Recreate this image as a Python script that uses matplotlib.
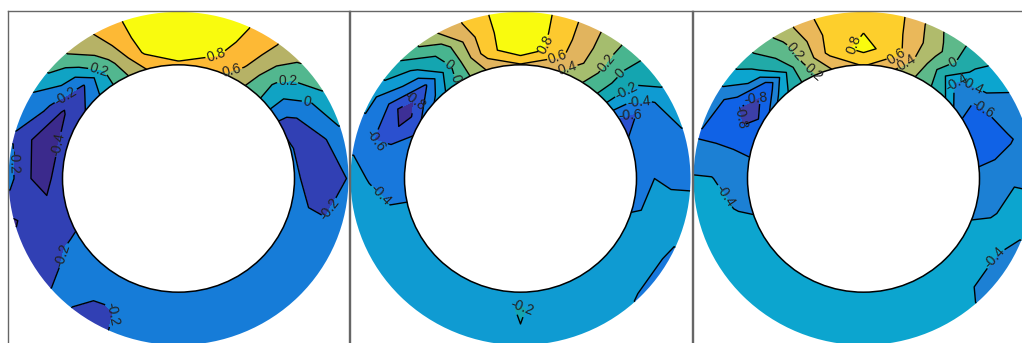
import numpy as np
import matplotlib
matplotlib.use('Agg')
import matplotlib.pyplot as plt
from matplotlib.patches import Circle

plt.rcParams['font.family'] = ['Liberation Sans', 'DejaVu Sans']

# Stations around the ring, clockwise from the top (degrees), and radii of the rows
angles = [0, 15, 30, 45, 60, 75, 90, 105, 120, 135, 150, 165,
          180, 195, 210, 225, 240, 255, 270, 285, 300, 315, 330, 345]
radii = [116, 134, 152, 170]

# Panel 1, one list per radius
p1_r1 = [.76, .68, .5, .2, -.21, -.19, -.17, -.15, -.12, -.1, -.1, -.1,
         -.09, -.1, -.1, -.1, -.19, -.25, -.3, -.3, -.3, -.05, .3, .62]
p1_r2 = [.95, .85, .62, .18, -.19, -.25, -.26, -.19, -.14, -.1, -.1, -.1,
         -.1, -.1, -.12, -.12, -.21, -.34, -.46, -.5, -.42, -.21, .35, .83]
p1_r3 = [1.0, .9, .7, .27, -.02, -.21, -.28, -.2, -.14, -.11, -.1, -.1,
         -.11, -.15, -.22, -.15, -.25, -.32, -.38, -.4, -.15, .1, .5, .88]
p1_r4 = [1.0, .95, .72, .42, .17, -.05, -.19, -.19, -.14, -.12, -.11, -.1,
         -.12, -.15, -.23, -.18, -.26, -.42, -.12, -.22, -.03, .33, .6, .88]

# Panel 2
p2_r1 = [.58, .45, .25, -.08, -.68, -.55, -.48, -.42, -.3, -.3, -.3, -.3,
         -.3, -.3, -.3, -.31, -.31, -.38, -.48, -.58, -.62, -.33, .1, .45]
p2_r2 = [1.0, .7, .36, -.05, -.6, -.55, -.4, -.38, -.3, -.3, -.3, -.31,
         -.18, -.31, -.3, -.3, -.3, -.38, -.47, -.6, -.95, -.62, .05, .7]
p2_r3 = [1.0, .72, .37, -.05, -.43, -.5, -.42, -.35, -.34, -.33, -.3, -.3,
         -.205, -.3, -.3, -.3, -.3, -.33, -.41, -.6, -.6, -.25, .1, .7]
p2_r4 = [1.0, .72, .36, 0, -.26, -.43, -.42, -.35, -.43, -.42, -.31, -.3,
         -.3, -.3, -.3, -.3, -.3, -.3, -.33, -.46, -.35, 0, .38, .72]

# Panel 3
p3_r1 = [.62, .42, .13, -.2, -.65, -.68, -.55, -.44, -.35, -.3, -.3, -.3,
         -.3, -.3, -.3, -.3, -.31, -.43, -.55, -.62, -.75, -.3, .05, .42]
p3_r2 = [.88, .66, .15, -.5, -.65, -.68, -.5, -.42, -.3, -.3, -.3, -.3,
         -.3, -.3, -.3, -.3, -.3, -.39, -.48, -.62, -.92, -.72, .1, .66]
p3_r3 = [.78, .6, .24, -.22, -.5, -.62, -.42, -.33, -.39, -.39, -.32, -.3,
         -.3, -.3, -.3, -.3, -.3, -.33, -.39, -.62, -.7, -.25, .15, .62]
p3_r4 = [.76, .59, .15, -.16, -.42, -.5, -.42, -.35, -.46, -.43, -.3, -.3,
         -.3, -.3, -.3, -.3, -.3, -.3, -.38, -.62, -.5, -.1, .25, .65]

# Contour levels and band colours of each panel
p1_levels = [-.6, -.4, -.2, 0, .2, .4, .6, .8, 1.2]
p1_colors = ['#3b2a8c', '#3140b4', '#167cd8', '#10a3c4', '#52b78f',
             '#b6b266', '#fdb935', '#f9fb0e']
p2_levels = [-1.2, -.8, -.6, -.4, -.2, 0, .2, .4, .6, .8, 1.2]
p2_colors = ['#3d2f96', '#2b50cf', '#1878dc', '#0f9bd2', '#14a5b0', '#48b58f',
             '#a5bd6e', '#e1b45e', '#fdc92f', '#f9fb0e']
p3_levels = [-1.2, -.8, -.6, -.4, -.2, 0, .2, .4, .6, .8, 1.2]
p3_colors = ['#3c3fa8', '#1062e6', '#1c80d4', '#0ca5cf', '#21aaa8', '#5db98a',
             '#b0bb6c', '#eab85a', '#fdcf2c', '#f9fb0e']

# Where the contour labels sit (pixels from the ring centre)
p1_labels = [(38, 123), (53, 112), (-79, 117), (110, 94), (128, 77), (152, -32),
             (-112, 83), (-121, 35), (-163, 17), (-127, -75), (-48, -143)]
p2_labels = [(29, 135), (38, 120), (47, 112), (85, 119), (97, 110), (103, 96),
             (118, 85), (110, 63), (-70, 119), (-62, 103), (-107, 83), (-147, 32),
             (-132, -9), (1, -132)]
p3_labels = [(-8, 135), (33, 126), (43, 119), (90, 118), (93, 99), (108, 95),
             (122, 78), (-70, 128), (-52, 106), (-134, 61), (-130, -12), (130, -80),
             (-108, 81)]

W, H = 1022, 343


def draw_ring(left, right, cx, rows, levels, colors, labels):
    cy = 178.5
    ax = fig.add_axes([left / W, 0, (right - left) / W, (H - 11) / H])
    # slightly squashed vertically, like the original
    ax.set_xlim(left - cx, right - cx)
    ax.set_ylim((cy - H) / 0.98, (cy - 11) / 0.98)

    # close the ring by repeating the first station; the outer row is repeated a
    # little further out and cut back to a true circle so the rim is not faceted
    theta = np.radians(angles + [360])
    rows = rows + [rows[-1]]
    z = np.array([row + row[:1] for row in rows])
    r = np.array(radii + [radii[-1] + 8])[:, None]
    x = r * np.sin(theta)
    y = r * np.cos(theta)

    rim = Circle((0, 0), radii[-1], transform=ax.transData)
    filled = ax.contourf(x, y, z, levels=levels, colors=colors, zorder=1)
    filled.set_clip_path(rim)
    lines = ax.contour(x, y, z, levels=levels[1:-1], colors='black',
                       linewidths=1.0, linestyles='solid', zorder=2)
    ax.add_patch(Circle((0, 0), radii[0], facecolor='white', edgecolor='black',
                        linewidth=1.1, zorder=2.5))
    texts = ax.clabel(lines, fmt='%g', fontsize=10, inline=True, inline_spacing=1,
                      manual=labels)
    lines.set_clip_path(rim)
    for t in texts:
        t.set_color('#222222')

    ax.set_xticks([])
    ax.set_yticks([])
    for side in ['top', 'left', 'right']:
        ax.spines[side].set_color('#666666')
        ax.spines[side].set_linewidth(1.0)
    ax.spines['bottom'].set_visible(False)
    return ax


fig = plt.figure(figsize=(W / 100, H / 100), dpi=100)

draw_ring(8, 349, 178.5, [p1_r1, p1_r2, p1_r3, p1_r4], p1_levels, p1_colors, p1_labels)
draw_ring(350, 692, 520.5, [p2_r1, p2_r2, p2_r3, p2_r4], p2_levels, p2_colors, p2_labels)
ax3 = draw_ring(693, 1022, 863.5, [p3_r1, p3_r2, p3_r3, p3_r4], p3_levels, p3_colors, p3_labels)
ax3.spines['right'].set_visible(False)

fig.savefig('out.png', dpi=100)
